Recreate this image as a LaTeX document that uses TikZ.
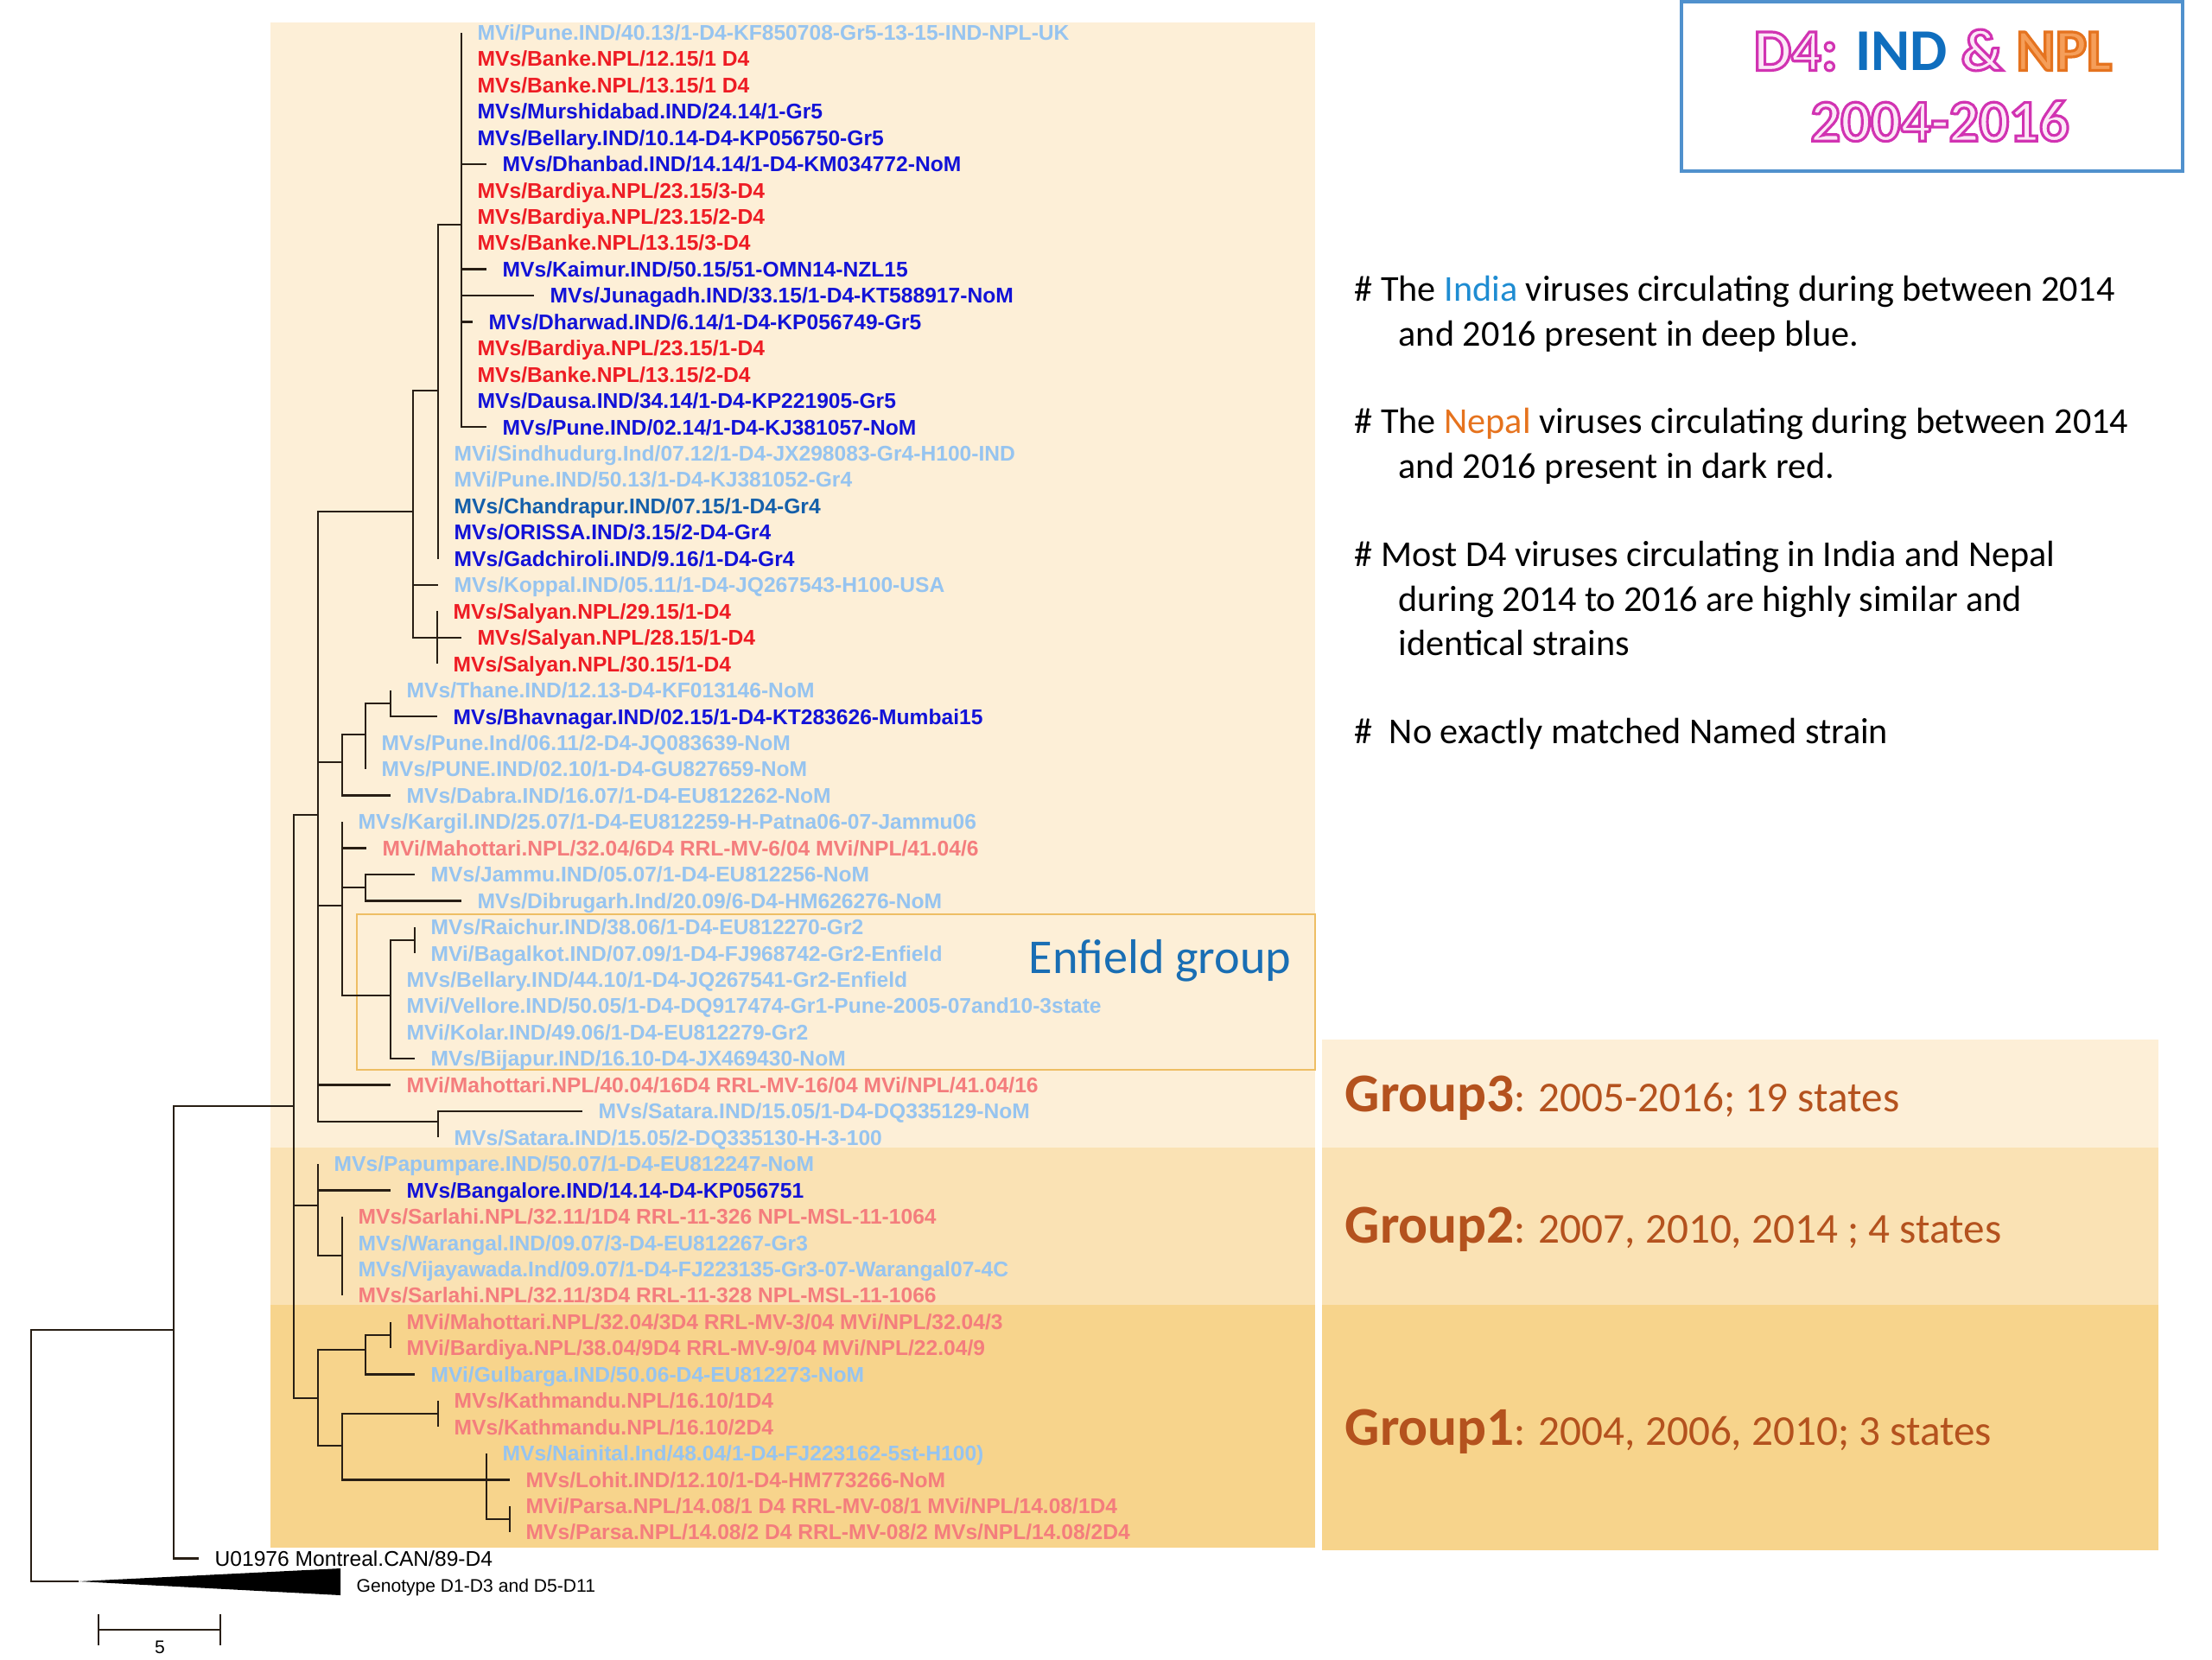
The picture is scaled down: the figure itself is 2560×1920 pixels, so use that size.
\documentclass[tikz,border=0pt]{standalone}
\usepackage{fontspec}
\setmainfont{Carlito}
\newfontfamily\treefont{Liberation Sans}

\definecolor{oldind}{RGB}{150,196,240}
\definecolor{newind}{RGB}{18,18,215}
\definecolor{newnpl}{RGB}{238,28,36}
\definecolor{oldnpl}{RGB}{244,125,125}
\definecolor{chand}{RGB}{20,95,170}
\definecolor{gthree}{RGB}{253,239,215}
\definecolor{gtwo}{RGB}{250,226,180}
\definecolor{gone}{RGB}{247,212,140}
\definecolor{grpbrown}{RGB}{180,82,30}
\definecolor{enfblue}{RGB}{25,110,180}
\definecolor{enfline}{RGB}{238,190,100}
\definecolor{boxblue}{RGB}{80,145,205}
\definecolor{titleblue}{RGB}{15,110,190}
\definecolor{indiablue}{RGB}{30,140,210}
\definecolor{nepalorange}{RGB}{230,115,30}
\definecolor{branchcol}{RGB}{40,30,20}

% y position of tree row #1
\newcommand{\ry}[1]{37.5+30.45*(#1-1)}
% outlined title text: #1 text, #2 fill rgb, #3 stroke rgb
\newcommand{\outl}[3]{\special{pdf:literal direct #2 rg #3 RG 2 Tr 0.9 w}#1\special{pdf:literal direct 0 Tr}}

\tikzset{
  leafname/.style={anchor=west, inner xsep=5.1pt, inner ysep=0pt, text height=5pt, text depth=0pt,
    font=\treefont\bfseries\fontsize{7}{8}\selectfont},
  brline/.style={draw=branchcol, line width=0.7pt},
  notetext/.style={anchor=west, inner sep=0pt, text height=7.7pt, text depth=0pt, font=\fontsize{12}{14}\selectfont},
  grptext/.style={anchor=west, inner sep=0pt, text height=11.6pt, text depth=0pt, text=grpbrown},
}

\begin{document}
\begin{tikzpicture}[x=0.01cm, y=-0.01cm]
\useasboundingbox[fill=white] (0,0) rectangle (2560,1920);

% group backgrounds
\fill[gthree] (313,26) rectangle (1522,1328);
\fill[gtwo] (313,1328) rectangle (1522,1510);
\fill[gone] (313,1510) rectangle (1522,1791);
\fill[gthree] (1530,1203) rectangle (2498,1328);
\fill[gtwo] (1530,1328) rectangle (2498,1510);
\fill[gone] (1530,1510) rectangle (2498,1794);

% Enfield box
\draw[enfline, line width=0.5pt] (413,1058) rectangle (1522,1238);
\node[anchor=west, inner sep=0pt, enfblue, font=\fontsize{16}{18}\selectfont] (enfield) at (1190,1112) {Enfield group};

% title box
\draw[boxblue, line width=0.9pt] (1946,2) rectangle (2526,198);
\node[font=\bfseries\fontsize{19.5}{22}\selectfont] (title1) at (2237,58)
  {\outl{D4:}{0.99 0.91 0.97}{0.82 0.2 0.7} \textcolor{titleblue}{IND} \outl{\&}{0.99 0.91 0.97}{0.82 0.2 0.7} \outl{NPL}{0.96 0.62 0.35}{0.9 0.45 0.12}};
\node[font=\bfseries\fontsize{19.5}{22}\selectfont] (title2) at (2245,140)
  {\outl{2004-2016}{0.99 0.91 0.97}{0.82 0.2 0.7}};

% notes
\node[notetext] (n1a) at (1567,335) {\# The \textcolor{indiablue}{India} viruses circulating during between 2014};
\node[notetext] (n1b) at (1618,387) {and 2016 present in deep blue.};
\node[notetext] (n2a) at (1567,488) {\# The \textcolor{nepalorange}{Nepal} viruses circulating during between 2014};
\node[notetext] (n2b) at (1618,540) {and 2016 present in dark red.};
\node[notetext] (n3a) at (1567,642) {\# Most D4 viruses circulating in India and Nepal};
\node[notetext] (n3b) at (1618,694) {during 2014 to 2016 are highly similar and};
\node[notetext] (n3c) at (1618,745) {identical strains};
\node[notetext] (n4a) at (1567,847) {\#\ \ No exactly matched Named strain};

% group labels
\node[grptext] (g3) at (1556,1266) {{\bfseries\fontsize{18}{20}\selectfont Group3}{\fontsize{14}{16}\selectfont: 2005-2016; 19 states}};
\node[grptext] (g2) at (1556,1418) {{\bfseries\fontsize{18}{20}\selectfont Group2}{\fontsize{14}{16}\selectfont: 2007, 2010, 2014 ; 4 states}};
\node[grptext] (g1) at (1556,1652) {{\bfseries\fontsize{18}{20}\selectfont Group1}{\fontsize{14}{16}\selectfont: 2004, 2006, 2010; 3 states}};

% leaves
\node[leafname, oldind] (l1) at (534,{\ry{1}}) {MVi/Pune.IND/40.13/1-D4-KF850708-Gr5-13-15-IND-NPL-UK};
\node[leafname, newnpl] (l2) at (534,{\ry{2}}) {MVs/Banke.NPL/12.15/1 D4};
\node[leafname, newnpl] (l3) at (534,{\ry{3}}) {MVs/Banke.NPL/13.15/1 D4};
\node[leafname, newind] (l4) at (534,{\ry{4}}) {MVs/Murshidabad.IND/24.14/1-Gr5};
\node[leafname, newind] (l5) at (534,{\ry{5}}) {MVs/Bellary.IND/10.14-D4-KP056750-Gr5};
\node[leafname, newind] (l6) at (563,{\ry{6}}) {MVs/Dhanbad.IND/14.14/1-D4-KM034772-NoM};
\node[leafname, newnpl] (l7) at (534,{\ry{7}}) {MVs/Bardiya.NPL/23.15/3-D4};
\node[leafname, newnpl] (l8) at (534,{\ry{8}}) {MVs/Bardiya.NPL/23.15/2-D4};
\node[leafname, newnpl] (l9) at (534,{\ry{9}}) {MVs/Banke.NPL/13.15/3-D4};
\node[leafname, newind] (l10) at (563,{\ry{10}}) {MVs/Kaimur.IND/50.15/51-OMN14-NZL15};
\node[leafname, newind] (l11) at (618,{\ry{11}}) {MVs/Junagadh.IND/33.15/1-D4-KT588917-NoM};
\node[leafname, newind] (l12) at (547,{\ry{12}}) {MVs/Dharwad.IND/6.14/1-D4-KP056749-Gr5};
\node[leafname, newnpl] (l13) at (534,{\ry{13}}) {MVs/Bardiya.NPL/23.15/1-D4};
\node[leafname, newnpl] (l14) at (534,{\ry{14}}) {MVs/Banke.NPL/13.15/2-D4};
\node[leafname, newind] (l15) at (534,{\ry{15}}) {MVs/Dausa.IND/34.14/1-D4-KP221905-Gr5};
\node[leafname, newind] (l16) at (563,{\ry{16}}) {MVs/Pune.IND/02.14/1-D4-KJ381057-NoM};
\node[leafname, oldind] (l17) at (507,{\ry{17}}) {MVi/Sindhudurg.Ind/07.12/1-D4-JX298083-Gr4-H100-IND};
\node[leafname, oldind] (l18) at (507,{\ry{18}}) {MVi/Pune.IND/50.13/1-D4-KJ381052-Gr4};
\node[leafname, chand] (l19) at (507,{\ry{19}}) {MVs/Chandrapur.IND/07.15/1-D4-Gr4};
\node[leafname, newind] (l20) at (507,{\ry{20}}) {MVs/ORISSA.IND/3.15/2-D4-Gr4};
\node[leafname, newind] (l21) at (507,{\ry{21}}) {MVs/Gadchiroli.IND/9.16/1-D4-Gr4};
\node[leafname, oldind] (l22) at (507,{\ry{22}}) {MVs/Koppal.IND/05.11/1-D4-JQ267543-H100-USA};
\node[leafname, newnpl] (l23) at (506,{\ry{23}}) {MVs/Salyan.NPL/29.15/1-D4};
\node[leafname, newnpl] (l24) at (534,{\ry{24}}) {MVs/Salyan.NPL/28.15/1-D4};
\node[leafname, newnpl] (l25) at (506,{\ry{25}}) {MVs/Salyan.NPL/30.15/1-D4};
\node[leafname, oldind] (l26) at (452,{\ry{26}}) {MVs/Thane.IND/12.13-D4-KF013146-NoM};
\node[leafname, newind] (l27) at (506,{\ry{27}}) {MVs/Bhavnagar.IND/02.15/1-D4-KT283626-Mumbai15};
\node[leafname, oldind] (l28) at (423,{\ry{28}}) {MVs/Pune.Ind/06.11/2-D4-JQ083639-NoM};
\node[leafname, oldind] (l29) at (423,{\ry{29}}) {MVs/PUNE.IND/02.10/1-D4-GU827659-NoM};
\node[leafname, oldind] (l30) at (452,{\ry{30}}) {MVs/Dabra.IND/16.07/1-D4-EU812262-NoM};
\node[leafname, oldind] (l31) at (396,{\ry{31}}) {MVs/Kargil.IND/25.07/1-D4-EU812259-H-Patna06-07-Jammu06};
\node[leafname, oldnpl] (l32) at (424,{\ry{32}}) {MVi/Mahottari.NPL/32.04/6D4 RRL-MV-6/04 MVi/NPL/41.04/6};
\node[leafname, oldind] (l33) at (480,{\ry{33}}) {MVs/Jammu.IND/05.07/1-D4-EU812256-NoM};
\node[leafname, oldind] (l34) at (534,{\ry{34}}) {MVs/Dibrugarh.Ind/20.09/6-D4-HM626276-NoM};
\node[leafname, oldind] (l35) at (480,{\ry{35}}) {MVs/Raichur.IND/38.06/1-D4-EU812270-Gr2};
\node[leafname, oldind] (l36) at (480,{\ry{36}}) {MVi/Bagalkot.IND/07.09/1-D4-FJ968742-Gr2-Enfield};
\node[leafname, oldind] (l37) at (452,{\ry{37}}) {MVs/Bellary.IND/44.10/1-D4-JQ267541-Gr2-Enfield};
\node[leafname, oldind] (l38) at (452,{\ry{38}}) {MVi/Vellore.IND/50.05/1-D4-DQ917474-Gr1-Pune-2005-07and10-3state};
\node[leafname, oldind] (l39) at (452,{\ry{39}}) {MVi/Kolar.IND/49.06/1-D4-EU812279-Gr2};
\node[leafname, oldind] (l40) at (480,{\ry{40}}) {MVs/Bijapur.IND/16.10-D4-JX469430-NoM};
\node[leafname, oldnpl] (l41) at (452,{\ry{41}}) {MVi/Mahottari.NPL/40.04/16D4 RRL-MV-16/04 MVi/NPL/41.04/16};
\node[leafname, oldind] (l42) at (674,{\ry{42}}) {MVs/Satara.IND/15.05/1-D4-DQ335129-NoM};
\node[leafname, oldind] (l43) at (507,{\ry{43}}) {MVs/Satara.IND/15.05/2-DQ335130-H-3-100};
\node[leafname, oldind] (l44) at (368,{\ry{44}}) {MVs/Papumpare.IND/50.07/1-D4-EU812247-NoM};
\node[leafname, newind] (l45) at (452,{\ry{45}}) {MVs/Bangalore.IND/14.14-D4-KP056751};
\node[leafname, oldnpl] (l46) at (396,{\ry{46}}) {MVs/Sarlahi.NPL/32.11/1D4 RRL-11-326 NPL-MSL-11-1064};
\node[leafname, oldind] (l47) at (396,{\ry{47}}) {MVs/Warangal.IND/09.07/3-D4-EU812267-Gr3};
\node[leafname, oldind] (l48) at (396,{\ry{48}}) {MVs/Vijayawada.Ind/09.07/1-D4-FJ223135-Gr3-07-Warangal07-4C};
\node[leafname, oldnpl] (l49) at (396,{\ry{49}}) {MVs/Sarlahi.NPL/32.11/3D4 RRL-11-328 NPL-MSL-11-1066};
\node[leafname, oldnpl] (l50) at (452,{\ry{50}}) {MVi/Mahottari.NPL/32.04/3D4 RRL-MV-3/04 MVi/NPL/32.04/3};
\node[leafname, oldnpl] (l51) at (452,{\ry{51}}) {MVi/Bardiya.NPL/38.04/9D4 RRL-MV-9/04 MVi/NPL/22.04/9};
\node[leafname, oldind] (l52) at (480,{\ry{52}}) {MVi/Gulbarga.IND/50.06-D4-EU812273-NoM};
\node[leafname, oldnpl] (l53) at (507,{\ry{53}}) {MVs/Kathmandu.NPL/16.10/1D4};
\node[leafname, oldnpl] (l54) at (507,{\ry{54}}) {MVs/Kathmandu.NPL/16.10/2D4};
\node[leafname, oldind] (l55) at (563,{\ry{55}}) {MVs/Nainital.Ind/48.04/1-D4-FJ223162-5st-H100)};
\node[leafname, oldnpl] (l56) at (590,{\ry{56}}) {MVs/Lohit.IND/12.10/1-D4-HM773266-NoM};
\node[leafname, oldnpl] (l57) at (590,{\ry{57}}) {MVi/Parsa.NPL/14.08/1 D4 RRL-MV-08/1 MVi/NPL/14.08/1D4};
\node[leafname, oldnpl] (l58) at (590,{\ry{58}}) {MVs/Parsa.NPL/14.08/2 D4 RRL-MV-08/2 MVs/NPL/14.08/2D4};
\node[leafname, black, font=\treefont\fontsize{7}{8}\selectfont] (l59) at (230,{\ry{59}}) {U01976 Montreal.CAN/89-D4};
\node[leafname, black, font=\treefont\fontsize{6}{7}\selectfont] (geno) at (394,1834) {Genotype D1-D3 and D5-D11};

% internal nodes
\coordinate (nA) at (534,260);
\coordinate (nB) at (507,452);
\coordinate (nC) at (478,592);
\coordinate (nD) at (506,{\ry{24}});
\coordinate (nE) at (368,943);
\coordinate (nF) at (396,882);
\coordinate (nI) at (423,850);
\coordinate (nJ) at (452,814);
\coordinate (nG) at (396,1048);
\coordinate (nK) at (423,1027);
\coordinate (nL) at (452,1152);
\coordinate (nM) at (480,1088);
\coordinate (nH) at (507,1298);
\coordinate (nN) at (340,1280);
\coordinate (nO) at (368,1395);
\coordinate (nS) at (396,1453);
\coordinate (nP) at (368,1618);
\coordinate (nT) at (423,1562);
\coordinate (nV) at (452,1545);
\coordinate (nU) at (396,1673);
\coordinate (nW) at (507,1636);
\coordinate (nX) at (563,{\ry{56}});
\coordinate (nY) at (590,1758);
\coordinate (nQ) at (201,1539);
\coordinate (root) at (36,1685);
\coordinate (tip) at (91,1830);
\coordinate (trTop) at (394,1815);
\coordinate (trBot) at (394,1846);

% branches
\begin{scope}[brline]
\foreach \c in {l1,l2,l3,l4,l5,l6,l7,l8,l9,l10,l11,l12,l13,l14,l15,l16} \draw (nA) |- (\c.west);
\foreach \c in {nA,l17.west,l18.west,l19.west,l20.west,l21.west} \draw (nB) |- (\c);
\foreach \c in {nB,l22.west,nD} \draw (nC) |- (\c);
\foreach \c in {l23,l24,l25} \draw (nD) |- (\c.west);
\foreach \c in {nC,nF,nG,l41.west,nH} \draw (nE) |- (\c);
\foreach \c in {nI,l30.west} \draw (nF) |- (\c);
\foreach \c in {nJ,l28.west,l29.west} \draw (nI) |- (\c);
\foreach \c in {l26,l27} \draw (nJ) |- (\c.west);
\foreach \c in {l31.west,l32.west,nK,nL} \draw (nG) |- (\c);
\foreach \c in {l33,l34} \draw (nK) |- (\c.west);
\foreach \c in {nM,l37.west,l38.west,l39.west,l40.west} \draw (nL) |- (\c);
\foreach \c in {l35,l36} \draw (nM) |- (\c.west);
\foreach \c in {l42,l43} \draw (nH) |- (\c.west);
\foreach \c in {nE,nO,nP} \draw (nN) |- (\c);
\foreach \c in {l44.west,l45.west,nS} \draw (nO) |- (\c);
\foreach \c in {l46,l47,l48,l49} \draw (nS) |- (\c.west);
\foreach \c in {nT,nU} \draw (nP) |- (\c);
\foreach \c in {nV,l52.west} \draw (nT) |- (\c);
\foreach \c in {l50,l51} \draw (nV) |- (\c.west);
\foreach \c in {nW,nX} \draw (nU) |- (\c);
\foreach \c in {l53,l54} \draw (nW) |- (\c.west);
\foreach \c in {l55.west,l56.west,nY} \draw (nX) |- (\c);
\foreach \c in {l57,l58} \draw (nY) |- (\c.west);
\foreach \c in {nN,l59.west} \draw (nQ) |- (\c);
\draw (root) |- (nQ);
\draw (root) |- (tip);
\end{scope}
\fill[black] (tip) -- (trTop) -- (trBot) -- cycle;

% scale bar
\coordinate (sbL) at (114,1886);
\coordinate (sbR) at (255,1886);
\draw[brline] (sbL) -- (sbR);
\draw[brline] ([yshift=5]sbL) -- ([yshift=-5]sbL);
\draw[brline] ([yshift=5]sbR) -- ([yshift=-5]sbR);
\node[font=\treefont\fontsize{6}{7}\selectfont, inner sep=0pt] (sbtext) at (185,1906) {5};
\end{tikzpicture}
\end{document}
